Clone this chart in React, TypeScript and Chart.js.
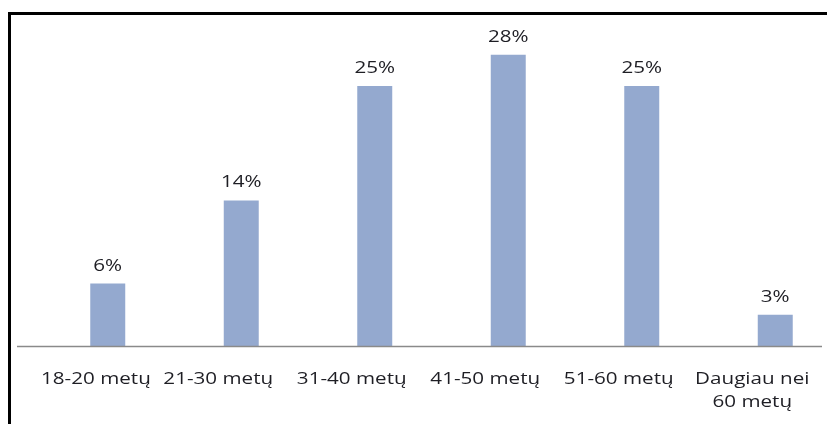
import React, { useEffect, useRef } from "react";
import { Chart, registerables } from "chart.js";

Chart.register(...registerables);

const categories: string[][] = [
  ["18-20 metų"],
  ["21-30 metų"],
  ["31-40 metų"],
  ["41-50 metų"],
  ["51-60 metų"],
  ["Daugiau nei", "60 metų"],
];
const shares: number[] = [6, 14, 25, 28, 25, 3];

const BAR_COLOR = "#94A9CF";
const TEXT_COLOR = "#1e1e24";
const FONT = "15.5px 'Open Sans', 'Noto Sans', sans-serif";
const STRETCH = 1.33; // wide, Calibri-like lettering
const LABEL_SHIFT = 23; // category labels sit left of their bars
const LINE_GAP = 22.5;

function wideText(ctx: CanvasRenderingContext2D, text: string, x: number, y: number) {
  ctx.save();
  ctx.translate(x, y);
  ctx.scale(STRETCH, 1);
  ctx.fillText(text, 0, 0);
  ctx.restore();
}

// Axis line, category labels and the percentage above each bar
const decorations = {
  id: "decorations",
  afterDatasetsDraw(chart: any) {
    const { ctx, chartArea } = chart;
    const xScale = chart.scales.x;
    ctx.save();
    ctx.strokeStyle = "#8a8a8a";
    ctx.lineWidth = 1.5;
    ctx.beginPath();
    ctx.moveTo(chartArea.left - 24, chartArea.bottom + 0.5);
    ctx.lineTo(chartArea.right - 20, chartArea.bottom + 0.5);
    ctx.stroke();

    ctx.fillStyle = TEXT_COLOR;
    ctx.font = FONT;
    ctx.textAlign = "center";
    ctx.textBaseline = "alphabetic";

    categories.forEach((lines, i) => {
      const widest = Math.max(...lines.map((l) => ctx.measureText(l).width)) * STRETCH;
      const cx = Math.max(
        xScale.getPixelForValue(i) - LABEL_SHIFT,
        chartArea.left + widest / 2
      );
      lines.forEach((line, j) => {
        wideText(ctx, line, cx, chartArea.bottom + 38 + j * LINE_GAP);
      });
    });

    const meta = chart.getDatasetMeta(0);
    meta.data.forEach((bar: any, i: number) => {
      wideText(ctx, `${shares[i]}%`, bar.x, bar.y - 13);
    });
    ctx.restore();
  },
};

export default function App() {
  const canvasRef = useRef<HTMLCanvasElement | null>(null);

  useEffect(() => {
    if (!canvasRef.current) return;
    const chart = new Chart(canvasRef.current, {
      type: "bar",
      data: {
        labels: categories.map((c) => c.join(" ")),
        datasets: [
          {
            data: shares,
            backgroundColor: BAR_COLOR,
            barPercentage: 0.262,
            categoryPercentage: 1,
          },
        ],
      },
      options: {
        animation: false,
        responsive: false,
        maintainAspectRatio: false,
        layout: { padding: { left: 41, right: 18, top: 34, bottom: 0 } },
        plugins: {
          legend: { display: false },
          tooltip: { enabled: false },
        },
        scales: {
          x: {
            grid: { display: false, drawTicks: false },
            border: { display: false },
            ticks: { display: false },
            afterFit(scale: any) {
              scale.height = 78;
            },
          },
          y: {
            display: false,
            min: 0,
            max: 30,
          },
        },
      },
      plugins: [decorations],
    });
    return () => chart.destroy();
  }, []);

  return (
    <div
      style={{
        position: "fixed",
        left: 0,
        top: 0,
        width: 827,
        height: 424,
        overflow: "hidden",
        background: "#fff",
      }}
    >
      <canvas
        ref={canvasRef}
        width={860}
        height={424}
        style={{ position: "absolute", left: 0, top: 0, width: 860, height: 424 }}
      />
      <div
        style={{
          position: "absolute",
          left: 8,
          top: 12,
          width: 900,
          height: 500,
          borderTop: "3px solid #000",
          borderLeft: "3px solid #000",
          pointerEvents: "none",
        }}
      />
    </div>
  );
}
